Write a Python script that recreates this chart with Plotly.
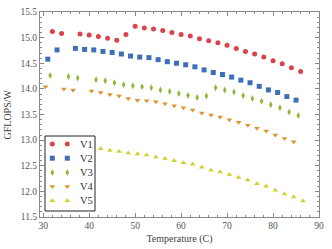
import plotly.graph_objects as go

t1 = [32, 34, 38, 40, 42, 44, 46, 48, 50, 52, 54, 56, 58, 60, 62, 64, 66, 68, 70, 72, 74, 76, 78, 80, 82, 84, 86]
v1 = [15.12, 15.08, 15.07, 15.05, 15.02, 14.99, 14.95, 15.06, 15.22, 15.19, 15.17, 15.14, 15.10, 15.06, 15.03,
      14.98, 14.94, 14.90, 14.85, 14.79, 14.73, 14.68, 14.62, 14.55, 14.49, 14.41, 14.34]

t2 = [31, 33, 37, 39, 41, 43, 45, 47, 49, 51, 53, 55, 57, 59, 61, 63, 65, 67, 69, 71, 73, 75, 77, 79, 81, 83, 85]
v2 = [14.58, 14.76, 14.79, 14.77, 14.76, 14.73, 14.71, 14.68, 14.64, 14.62, 14.61, 14.57, 14.53, 14.50, 14.47,
      14.43, 14.37, 14.32, 14.28, 14.23, 14.17, 14.12, 14.05, 13.98, 13.93, 13.85, 13.78]

t3 = [31.5, 35.5, 37.5, 41.5, 43.5, 45.5, 47.5, 49.5, 51.5, 53.5, 55.5, 57.5, 59.5, 61.5, 63.5, 65.5, 67.5,
      69.5, 71.5, 73.5, 75.5, 77.5, 79.5, 81.5, 83.5, 85.5]
v3 = [14.26, 14.24, 14.21, 14.18, 14.16, 14.12, 14.08, 14.06, 14.04, 14.02, 13.98, 13.95, 13.91, 13.87, 13.83,
      13.86, 14.02, 13.98, 13.94, 13.87, 13.81, 13.76, 13.69, 13.63, 13.55, 13.48]

t4 = [30.5, 34.5, 36.5, 40.5, 42.5, 44.5, 46.5, 48.5, 50.5, 52.5, 54.5, 56.5, 58.5, 60.5, 62.5, 64.5, 66.5,
      68.5, 70.5, 72.5, 74.5, 76.5, 78.5, 80.5, 82.5, 84.5]
v4 = [14.04, 14.00, 13.98, 13.96, 13.93, 13.89, 13.86, 13.81, 13.78, 13.77, 13.75, 13.71, 13.67, 13.63, 13.59,
      13.53, 13.49, 13.45, 13.40, 13.35, 13.29, 13.23, 13.18, 13.10, 13.03, 12.97]

t5 = [42.5, 44.5, 46.5, 48.5, 50.5, 52.5, 54.5, 56.5, 58.5, 60.5, 62.5, 64.5, 66.5, 68.5, 70.5, 72.5, 74.5,
      76.5, 78.5, 80.5, 82.5, 84.5, 86.5]
v5 = [12.83, 12.80, 12.78, 12.75, 12.73, 12.71, 12.67, 12.64, 12.60, 12.56, 12.53, 12.47, 12.41, 12.38, 12.33,
      12.27, 12.22, 12.15, 12.10, 12.02, 11.95, 11.89, 11.81]

names = ["V1", "V2", "V3", "V4", "V5"]
colors = ["#d9434b", "#3d6fb8", "#8fb838", "#e0932f", "#d2cf2a"]
symbols = ["circle", "square", "diamond-tall", "triangle-down", "triangle-up"]
sizes = [5, 5, 5, 5, 5]

font = "Liberation Serif"

fig = go.Figure()
for t, v, n, c, s, sz in zip([t1, t2, t3, t4, t5], [v1, v2, v3, v4, v5], names, colors, symbols, sizes):
    fig.add_trace(go.Scatter(x=t, y=v, mode="markers", name=n, showlegend=False,
                             marker=dict(color=c, symbol=s, size=sz, line=dict(width=0))))

# Legend drawn in a pixel-unit overlay of the plot area (279 x 205 px)
W, H = 279, 205
box = dict(x0=5, x1=55, y0=6, y1=81)
row_top, row_step = 73, 14.2
for i, (n, c, s, sz) in enumerate(zip(names, colors, symbols, sizes)):
    yy = row_top - i * row_step
    fig.add_trace(go.Scatter(x=[12.3, 27.3], y=[yy, yy], mode="markers", xaxis="x2", yaxis="y2",
                             showlegend=False, hoverinfo="skip",
                             marker=dict(color=c, symbol=s, size=sz, line=dict(width=0))))
    fig.add_annotation(x=38, y=yy, xref="x2", yref="y2", text=n, showarrow=False, xanchor="left",
                       yanchor="middle", font=dict(family=font, size=10.5, color="#333"))
fig.add_shape(type="rect", xref="x2", yref="y2", x0=box["x0"], x1=box["x1"], y0=box["y0"], y1=box["y1"],
              line=dict(color="#222", width=1), fillcolor="white", layer="below")

# y-axis title
fig.add_annotation(x=-33 / W, y=0.5, xref="paper", yref="paper", text="GFLOPS/W", textangle=-90,
                   showarrow=False, xanchor="center", yanchor="middle",
                   font=dict(family=font, size=10, color="#444"))

axis_common = dict(showgrid=False, zeroline=False, showline=True, linecolor="#888", linewidth=1,
                   mirror="allticks", ticks="inside", ticklen=4, tickcolor="#888", tickwidth=1,
                   automargin=False, tickfont=dict(family=font, size=9.5, color="#555"))
fig.update_layout(
    xaxis=dict(range=[29.3, 90], dtick=10, tick0=30,
               minor=dict(dtick=2, ticks="inside", ticklen=2, tickcolor="#888"),
               title=dict(text="Temperature (C)", font=dict(family=font, size=10, color="#444"), standoff=4),
               **axis_common),
    yaxis=dict(range=[11.5, 15.5], dtick=0.5, tick0=11.5, tickformat=".1f",
               minor=dict(dtick=0.1, ticks="inside", ticklen=2, tickcolor="#888"),
               **axis_common),
    xaxis2=dict(range=[0, W], overlaying="x", visible=False, fixedrange=True, automargin=False),
    yaxis2=dict(range=[0, H], overlaying="y", visible=False, fixedrange=True, anchor="x2", automargin=False),
    width=332, height=249, margin=dict(l=40, r=13, t=12, b=32, autoexpand=False),
    plot_bgcolor="white", paper_bgcolor="white", showlegend=False)
fig.write_html("out.html", config={"displayModeBar": False},
               post_script="document.body.style.margin='0';document.body.style.padding='0';"
                           "document.body.style.overflow='hidden';")
